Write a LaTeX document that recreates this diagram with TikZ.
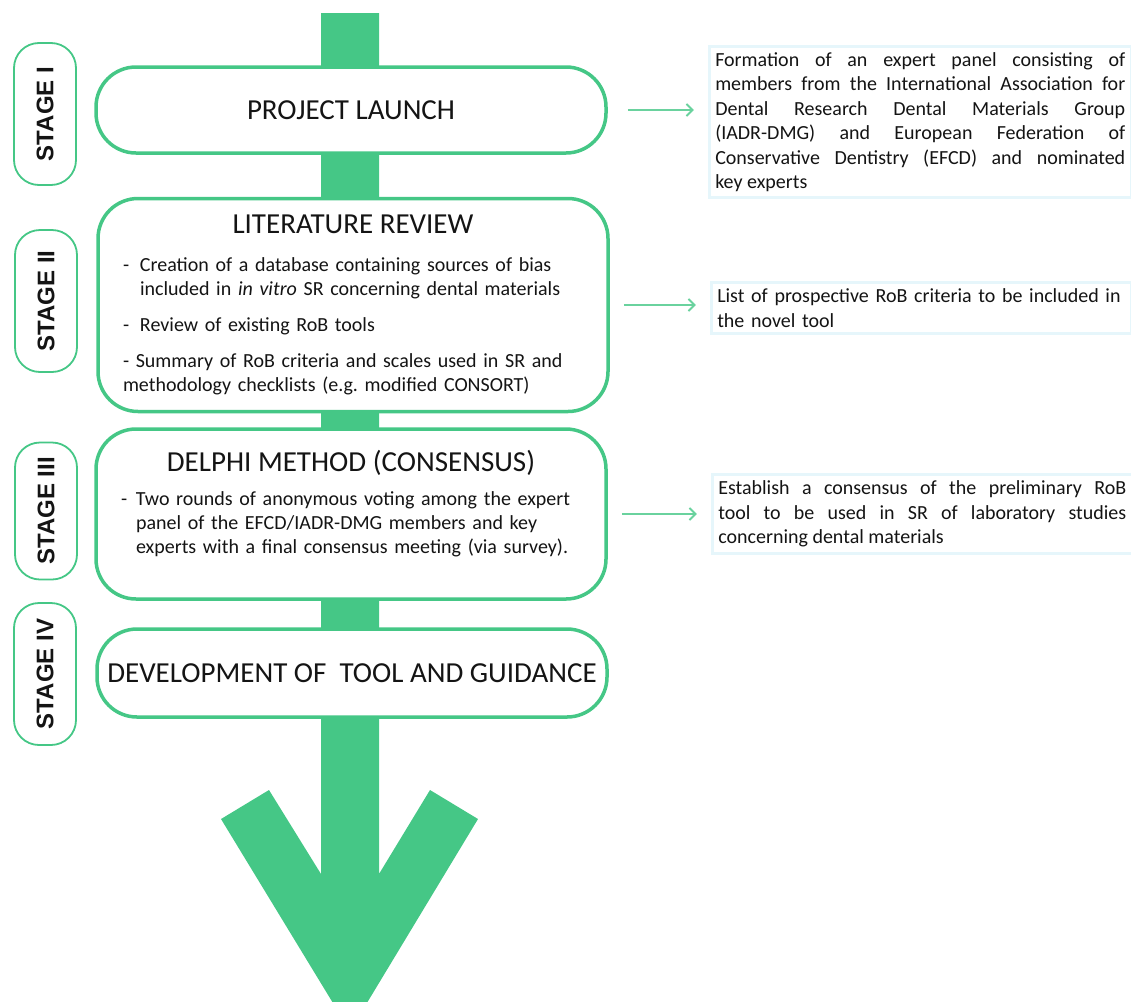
\documentclass[tikz,border=0pt]{standalone}
\usepackage{fontspec}
\setmainfont{Carlito}
\newfontfamily\stagefont{Liberation Sans}
\usetikzlibrary{arrows.meta,positioning}
\usepackage{xcolor}
\definecolor{gr}{RGB}{69,199,134}
\definecolor{lb}{RGB}{230,246,251}
\definecolor{tx}{RGB}{20,20,20}
\newcommand\ttl{\fontsize{29}{32}\selectfont}

\begin{document}
\begin{tikzpicture}[x=1pt,y=-1pt,
  every node/.style={align=center,text=tx,inner sep=0pt},%
  bx/.style={draw=gr,line width=3.5pt,rounded corners=40pt,fill=white,%
    minimum width=510pt,font=\fontsize{20}{24}\selectfont},%
  st/.style={draw=gr,line width=1.8pt,rounded corners=25pt,fill=white,rotate=90,%
    minimum width=142pt,minimum height=62pt,font=\stagefont\bfseries\fontsize{24}{24}\selectfont},%
  rb/.style={draw=lb,line width=3pt,fill=white,inner sep=6pt,%
    font=\fontsize{20}{24.5}\selectfont},%
  e/.style={-{Straight Barb[length=6pt,width=12pt]},line width=1.8pt,draw=gr!80,%
    shorten <=14pt,shorten >=14pt},%
  ]
  \clip (0,0) rectangle (1131,1001);
  % big arrow behind the boxes
  \fill [gr] (321,13) -- (379,13) -- (379,874) -- (430,790) -- (478,819) -- (350,1031)
    -- (221,819) -- (269,790) -- (321,874) -- cycle;
  \node (b1) [bx,minimum height=86pt] at (351,110) {\ttl PROJECT LAUNCH};
  \node (b2) [bx,minimum height=213pt,text width=460pt,align=left] at (353,305) {%
    \makebox[460pt]{\ttl LITERATURE REVIEW}\\[14pt]
    \makebox[17pt][l]{-}Creation of a database containing sources of bias\\
    \hspace*{17pt}included in \textit{in vitro} SR concerning dental materials\\[12pt]
    \makebox[17pt][l]{-}Review of existing RoB tools\\[12pt]
    - Summary of RoB criteria and scales used in SR and\\
    methodology checklists (e.g.\ modified CONSORT)};
  \node (b3) [bx,minimum height=170pt,text width=460pt,align=left] at (351,514) {%
    \makebox[460pt]{\ttl DELPHI METHOD (CONSENSUS)}\\[10pt]
    \makebox[15pt][l]{-}Two rounds of anonymous voting among the expert\\
    \hspace*{15pt}panel of the EFCD/IADR-DMG members and key\\
    \hspace*{15pt}experts with a final consensus meeting (via survey).\\
    \mbox{}};
  \node (b4) [bx,minimum height=88pt] at (352,673) {\ttl DEVELOPMENT OF\ \ TOOL AND GUIDANCE};
  \node (s1) [st] at (45,114) {STAGE I};
  \node (s2) [st] at (46,301) {STAGE II};
  \node (s3) [st,minimum width=137pt] at (46,511) {STAGE III};
  \node (s4) [st] at (45,674) {STAGE IV};
  \node (r1) [rb,right=100pt of b1,yshift=-12pt,text width=410pt,align=justify] {%
    Formation of an expert panel consisting of\linebreak
    members from the International Association for\linebreak
    Dental Research Dental Materials Group\linebreak
    (IADR-DMG) and European Federation of\linebreak
    Conservative Dentistry (EFCD) and nominated\linebreak
    key experts};
  \node (r2) [rb,right=100pt of b2,yshift=-3pt,text width=408pt,align=left] {%
    List of prospective RoB criteria to be included in\\
    the novel tool};
  \node (r3) [rb,right=103pt of b3,text width=408pt,align=justify] {%
    Establish a consensus of the preliminary RoB\linebreak
    tool to be used in SR of laboratory studies\linebreak
    concerning dental materials};
  \draw [e,shorten <=20pt] (b1.east) -- (b1.east -| r1.west);
  \draw [e] (b2.east) -- (b2.east -| r2.west);
  \draw [e] (b3.east) -- (b3.east -| r3.west);
\end{tikzpicture}
\end{document}
